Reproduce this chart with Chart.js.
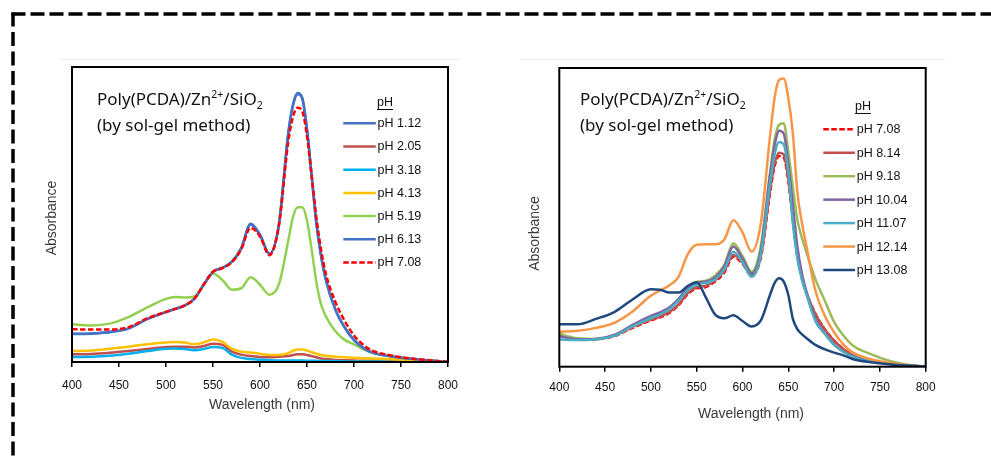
<!DOCTYPE html>
<html><head><meta charset="utf-8">
<script src="https://cdn.jsdelivr.net/npm/chart.js@4.4.0/dist/chart.umd.min.js"></script>
<style>
html,body{margin:0;padding:0;background:#fff;width:991px;height:460px;overflow:hidden;}
canvas{position:absolute;}
.note{position:absolute;font-family:"Noto Sans",sans-serif;font-size:17px;line-height:26px;color:#111;white-space:nowrap;}
.note sup{font-size:10.5px;line-height:0;vertical-align:7px;}
.note sub{font-size:10.5px;line-height:0;vertical-align:-4px;}
</style></head><body>
<svg width="991" height="460" style="position:absolute;left:0;top:0">
  <line x1="60" y1="59.5" x2="460" y2="59.5" stroke="#eeeeee" stroke-width="1"/>
  <line x1="520" y1="59.5" x2="945" y2="59.5" stroke="#eeeeee" stroke-width="1"/>
  <line x1="11.5" y1="14" x2="991" y2="14" stroke="#000" stroke-width="3.5" stroke-dasharray="14 5"/>
  <line x1="13" y1="12.5" x2="13" y2="460" stroke="#000" stroke-width="3.5" stroke-dasharray="14 5.5"/>
</svg>
<canvas id="left" width="470" height="400" style="left:0;top:40px"></canvas>
<canvas id="right" width="480" height="400" style="left:480px;top:40px"></canvas>
<div class="note" style="left:97px;top:86px">Poly(PCDA)/Zn<sup>2+</sup>/SiO<sub>2</sub><br>(by sol-gel method)</div>
<div class="note" style="left:580px;top:86px">Poly(PCDA)/Zn<sup>2+</sup>/SiO<sub>2</sub><br>(by sol-gel method)</div>
<script>
// ---------- data ----------
const xTicks = [400, 450, 500, 550, 600, 650, 700, 750, 800];
const wlLeft = [400,420,440,460,480,500,510,520,530,540,550,560,570,580,590,600,610,620,630,635,640,645,650,655,660,665,670,680,690,700,710,720,740,760,780,800];
const labelsLeft = ["pH 1.12","pH 2.05","pH 3.18","pH 4.13","pH 5.19","pH 6.13","pH 7.08"];
const pH112 = [0.096,0.097,0.102,0.114,0.146,0.170,0.181,0.192,0.214,0.262,0.306,0.320,0.340,0.386,0.469,0.432,0.368,0.465,0.775,0.872,0.912,0.895,0.790,0.630,0.470,0.360,0.280,0.180,0.118,0.075,0.048,0.032,0.019,0.011,0.005,0.000];
const pH205 = [0.026,0.027,0.031,0.037,0.044,0.051,0.052,0.052,0.049,0.054,0.062,0.058,0.035,0.025,0.020,0.017,0.016,0.018,0.020,0.024,0.026,0.026,0.024,0.020,0.016,0.012,0.010,0.007,0.006,0.005,0.004,0.004,0.003,0.002,0.001,0.000];
const pH318 = [0.017,0.018,0.021,0.028,0.037,0.045,0.046,0.044,0.040,0.044,0.051,0.048,0.025,0.014,0.010,0.008,0.006,0.005,0.005,0.005,0.005,0.005,0.004,0.004,0.004,0.003,0.003,0.003,0.002,0.002,0.002,0.002,0.001,0.001,0.001,0.000];
const pH413 = [0.037,0.039,0.045,0.052,0.060,0.066,0.068,0.066,0.060,0.066,0.076,0.068,0.045,0.035,0.032,0.028,0.024,0.024,0.030,0.038,0.042,0.042,0.039,0.033,0.028,0.024,0.021,0.018,0.016,0.014,0.013,0.012,0.009,0.006,0.003,0.000];
const pH519 = [0.128,0.124,0.130,0.152,0.185,0.214,0.220,0.219,0.222,0.262,0.300,0.278,0.245,0.250,0.287,0.262,0.228,0.262,0.410,0.490,0.525,0.525,0.480,0.380,0.270,0.195,0.155,0.105,0.075,0.060,0.043,0.031,0.019,0.011,0.005,0.000];
const pH613 = [0.095,0.096,0.101,0.113,0.145,0.169,0.180,0.191,0.213,0.261,0.305,0.319,0.339,0.384,0.466,0.430,0.366,0.463,0.770,0.868,0.908,0.892,0.787,0.628,0.468,0.358,0.279,0.179,0.117,0.074,0.047,0.031,0.019,0.011,0.005,0.000];
const pH708L = [0.111,0.110,0.110,0.118,0.148,0.170,0.180,0.192,0.214,0.262,0.306,0.318,0.338,0.382,0.455,0.425,0.362,0.460,0.745,0.830,0.862,0.850,0.765,0.630,0.490,0.380,0.300,0.205,0.140,0.090,0.058,0.038,0.022,0.012,0.006,0.000];

const wlRight = [400,420,440,460,480,500,510,520,530,540,550,560,570,580,590,600,610,620,630,635,640,645,650,655,660,665,670,680,690,700,710,720,740,760,780,800];
const labelsRight = ["pH 7.08","pH 8.14","pH 9.18","pH 10.04","pH 11.07","pH 12.14","pH 13.08"];
const pH708R = [0.106,0.092,0.092,0.102,0.130,0.155,0.165,0.180,0.205,0.242,0.262,0.267,0.285,0.315,0.368,0.345,0.305,0.365,0.580,0.670,0.705,0.700,0.620,0.490,0.370,0.295,0.245,0.175,0.125,0.088,0.060,0.040,0.021,0.010,0.004,0.000];
const pH814 = [0.104,0.092,0.093,0.104,0.133,0.158,0.168,0.183,0.208,0.246,0.266,0.271,0.289,0.320,0.374,0.349,0.307,0.370,0.590,0.680,0.716,0.710,0.630,0.495,0.372,0.296,0.245,0.174,0.124,0.087,0.059,0.039,0.021,0.010,0.004,0.000];
const pH918 = [0.111,0.095,0.093,0.105,0.135,0.163,0.178,0.195,0.225,0.262,0.284,0.288,0.305,0.340,0.413,0.370,0.318,0.405,0.650,0.760,0.810,0.815,0.720,0.600,0.490,0.430,0.380,0.290,0.220,0.150,0.105,0.072,0.042,0.020,0.007,0.000];
const pH1004 = [0.102,0.092,0.093,0.106,0.140,0.170,0.182,0.198,0.226,0.262,0.280,0.285,0.298,0.335,0.402,0.362,0.312,0.390,0.640,0.740,0.790,0.780,0.680,0.540,0.400,0.310,0.250,0.160,0.110,0.075,0.050,0.035,0.020,0.010,0.004,0.000];
const pH1107 = [0.091,0.089,0.092,0.103,0.135,0.163,0.175,0.192,0.220,0.255,0.275,0.280,0.292,0.325,0.385,0.350,0.301,0.375,0.610,0.710,0.752,0.745,0.650,0.480,0.360,0.290,0.240,0.150,0.110,0.073,0.050,0.034,0.018,0.009,0.004,0.000];
const pH1214 = [0.117,0.120,0.130,0.147,0.185,0.238,0.255,0.272,0.300,0.375,0.408,0.410,0.410,0.425,0.490,0.450,0.385,0.480,0.770,0.900,0.960,0.965,0.900,0.780,0.580,0.480,0.400,0.250,0.170,0.115,0.075,0.048,0.025,0.013,0.005,0.000];
const pH1308 = [0.142,0.142,0.160,0.183,0.225,0.259,0.258,0.248,0.248,0.270,0.283,0.232,0.175,0.162,0.172,0.153,0.135,0.155,0.240,0.280,0.296,0.285,0.240,0.160,0.125,0.108,0.095,0.072,0.058,0.047,0.038,0.026,0.015,0.008,0.004,0.000];

const colorsLeft = ["#4472C4","#C0504D","#00B0F0","#FFC000","#92D050","#4472C4","#FF0000"];
const colorsRight = ["#FF0000","#C0504D","#9BBB59","#8064A2","#4BACC6","#F79646","#1F497D"];

// ---------- plugins ----------
const framePlugin = {
  id: 'frame',
  afterDraw(chart) {
    const {ctx, chartArea: a} = chart;
    ctx.save();
    ctx.strokeStyle = '#000';
    ctx.lineWidth = 2;
    ctx.strokeRect(a.left, a.top, a.right - a.left, a.bottom - a.top);
    ctx.restore();
  }
};
const axisTitlePlugin = {
  id: 'axisTitles',
  afterDraw(chart, args, opts) {
    const ctx = chart.ctx;
    ctx.save();
    ctx.fillStyle = '#3a3a3a';
    ctx.font = '14px "Liberation Sans", Arial, sans-serif';
    ctx.textAlign = 'center';
    ctx.textBaseline = 'middle';
    ctx.fillText(opts.xText, opts.xcx, opts.xcy);
    ctx.translate(opts.ycx, opts.ycy);
    ctx.rotate(-Math.PI / 2);
    ctx.fillText(opts.yText, 0, 0);
    ctx.restore();
  }
};
const legendPlugin = {
  id: 'sideLegend',
  afterDraw(chart, args, o) {
    const ctx = chart.ctx;
    ctx.save();
    ctx.font = '12.5px "Liberation Sans", Arial, sans-serif';
    ctx.fillStyle = '#111';
    ctx.textBaseline = 'middle';
    ctx.textAlign = 'center';
    ctx.fillText(o.title, o.titleX, o.titleY);
    const tw = ctx.measureText(o.title).width;
    ctx.strokeStyle = '#111';
    ctx.lineWidth = 1;
    ctx.beginPath();
    ctx.moveTo(o.titleX - tw / 2, o.titleY + 6.5);
    ctx.lineTo(o.titleX + tw / 2, o.titleY + 6.5);
    ctx.stroke();
    ctx.textAlign = 'left';
    chart.data.datasets.forEach((ds, i) => {
      const y = o.rowY0 + i * o.dy;
      ctx.strokeStyle = ds.borderColor;
      ctx.lineWidth = ds.borderWidth;
      ctx.setLineDash(ds.borderDash || []);
      ctx.beginPath();
      ctx.moveTo(o.sampleX, y);
      ctx.lineTo(o.sampleX + o.sampleW, y);
      ctx.stroke();
      ctx.setLineDash([]);
      ctx.fillText(ds.label, o.textX, y + 0.5);
    });
    ctx.restore();
  }
};

function buildChart(id, wl, labels, seriesList, colors, dashedIndex, g) {
  const n = seriesList.length;
  const datasets = seriesList.map((vals, i) => ({
    label: labels[i],
    data: wl.map((x, j) => ({x: x, y: vals[j]})),
    borderColor: colors[i],
    borderWidth: 2.5,
    borderDash: i === dashedIndex ? [5.5, 2.5] : [],
    pointRadius: 0,
    cubicInterpolationMode: 'monotone',
    fill: false,
    order: n - i
  }));
  return new Chart(document.getElementById(id), {
    type: 'line',
    data: {datasets},
    options: {
      responsive: false,
      animation: false,
      events: [],
      layout: {padding: {left: 0, top: g.padTop, right: g.padRight, bottom: 0}},
      plugins: {
        legend: {display: false},
        tooltip: {enabled: false},
        axisTitles: g.titles,
        sideLegend: g.legend
      },
      scales: {
        x: {
          type: 'linear', min: 400, max: 800,
          afterBuildTicks: s => { s.ticks = xTicks.map(v => ({value: v})); },
          ticks: {padding: g.tickPad, color: '#111', font: {family: '"Liberation Sans", Arial, sans-serif', size: 12}},
          grid: {display: true, drawOnChartArea: false, drawTicks: true, tickLength: 5, color: '#000', lineWidth: 1.5},
          border: {display: false},
          afterFit: s => { s.height = g.xHeight; }
        },
        y: {
          min: 0, max: 1,
          ticks: {display: false},
          grid: {display: false},
          border: {display: false},
          afterFit: s => { s.width = g.yWidth; }
        }
      }
    },
    plugins: [framePlugin, axisTitlePlugin, legendPlugin]
  });
}

buildChart('left', wlLeft, labelsLeft, [pH112, pH205, pH318, pH413, pH519, pH613, pH708L], colorsLeft, 6, {
  padTop: 27, padRight: 22, xHeight: 78, yWidth: 72, tickPad: 11,
  titles: {xText: 'Wavelength (nm)', xcx: 262, xcy: 365, yText: 'Absorbance', ycx: 52, ycy: 178},
  legend: {title: 'pH', titleX: 385, titleY: 63, sampleX: 343.3, sampleW: 32.5, textX: 377.5, rowY0: 83.3, dy: 23.2}
});
buildChart('right', wlRight, labelsRight, [pH708R, pH814, pH918, pH1004, pH1107, pH1214, pH1308], colorsRight, 0, {
  padTop: 28, padRight: 34.3, xHeight: 73.3, yWidth: 79.3, tickPad: 9,
  titles: {xText: 'Wavelength (nm)', xcx: 271, xcy: 374, yText: 'Absorbance', ycx: 55, ycy: 193.5},
  legend: {title: 'pH', titleX: 383, titleY: 67, sampleX: 343.3, sampleW: 31.7, textX: 376.7, rowY0: 89.3, dy: 23.45}
});
</script>
</body></html>
